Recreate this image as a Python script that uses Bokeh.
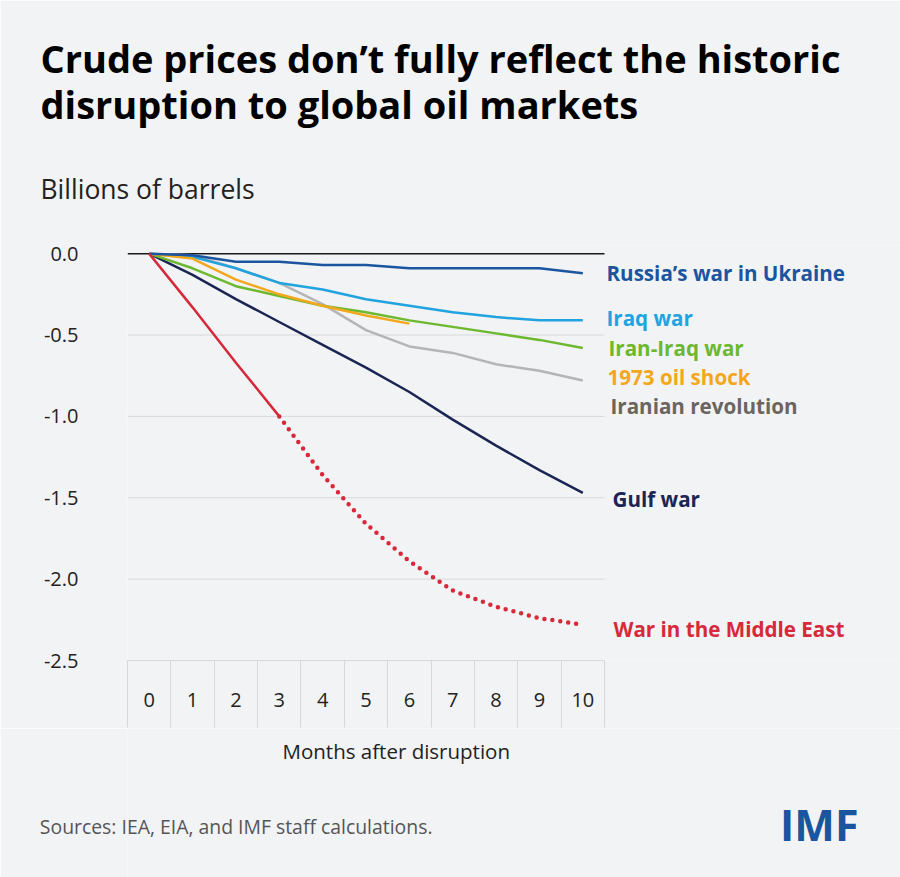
from bokeh.embed import file_html
from bokeh.layouts import column
from bokeh.models import FixedTicker, Label, NumeralTickFormatter, Range1d, Title
from bokeh.plotting import figure
from bokeh.resources import INLINE

# Months after disruption
MONTHS = list(range(11))
MONTHS_1973 = list(range(7))
MONTHS_ME_ACTUAL = [0, 1, 2, 3]
MONTHS_ME_PROJ = [3, 4, 5, 6, 7, 8, 9, 10]

# Billions of barrels
RUSSIA = [0, -0.01, -0.05, -0.05, -0.07, -0.07, -0.09, -0.09, -0.09, -0.09, -0.12]
IRAQ = [0, -0.02, -0.09, -0.18, -0.22, -0.28, -0.32, -0.36, -0.39, -0.41, -0.41]
IRAN_IRAQ = [0, -0.09, -0.20, -0.26, -0.32, -0.36, -0.41, -0.45, -0.49, -0.53, -0.58]
OIL_1973 = [0, -0.03, -0.16, -0.25, -0.32, -0.38, -0.43]
IRAN_REV = [0, -0.01, -0.09, -0.18, -0.31, -0.47, -0.57, -0.61, -0.68, -0.72, -0.78]
GULF = [0, -0.13, -0.28, -0.42, -0.56, -0.70, -0.85, -1.02, -1.18, -1.33, -1.47]
ME_ACTUAL = [0, -0.33, -0.67, -1.0]
ME_PROJ = [-1.0, -1.36, -1.66, -1.89, -2.07, -2.17, -2.24, -2.28]

Y_TICKS = [0, -0.5, -1.0, -1.5, -2.0, -2.5]

SOURCE = "Sources: IEA, EIA, and IMF staff calculations."

BG = "#f2f3f5"
GRID = "#d6d8db"
FONT = "Open Sans"
W, H = 900, 877
CHART_H = 728  # chart figure ends at the bottom of the month boxes

# chart frame in page pixels; it runs on to the right edge to hold the labels
FX0, FY0, FY1 = 127, 245, 660
X0, XB, Y0, Y1 = -0.5, 10.5, -2.5, 0.05
PX_PER_MONTH = 477 / (XB - X0)
X1 = X0 + (W - FX0) / PX_PER_MONTH


def mx(px):
    return X0 + (px - FX0) / PX_PER_MONTH


def vy(py):
    return Y0 + (FY1 - py) * (Y1 - Y0) / (FY1 - FY0)


p = figure(width=W, height=CHART_H, output_backend="svg", toolbar_location=None,
           tools="", x_range=Range1d(X0, X1), y_range=Range1d(Y0, Y1),
           min_border_left=FX0, min_border_right=0,
           min_border_top=FY0, min_border_bottom=CHART_H - FY1)
p.background_fill_color = BG
p.border_fill_color = BG
p.outline_line_color = None

# header, stacked upwards from the frame
p.add_layout(Title(text="Billions of barrels", align="left", offset=40 - FX0,
                   standoff=78, text_font=FONT, text_font_style="normal",
                   text_font_size="26.5px", text_color="#222222"), "above")
p.add_layout(Title(text="disruption to global oil markets", align="left",
                   offset=40 - FX0, standoff=0, text_font=FONT,
                   text_font_style="bold", text_font_size="38px",
                   text_color="#000000"), "above")
p.add_layout(Title(text="Crude prices don\u2019t fully reflect the historic",
                   align="left", offset=40 - FX0, standoff=-16, text_font=FONT,
                   text_font_style="bold", text_font_size="38px",
                   text_color="#000000"), "above")

# x axis drawn as a row of boxes
p.xaxis.bounds = (X0, XB)
p.xaxis.ticker = FixedTicker(ticks=MONTHS,
                             minor_ticks=[m - 0.5 for m in MONTHS] + [MONTHS[-1] + 0.5])
p.xaxis.major_tick_out = 0
p.xaxis.major_tick_in = 0
p.xaxis.minor_tick_in = 0
p.xaxis.minor_tick_out = 67
p.xaxis.minor_tick_line_color = GRID
p.xaxis.axis_line_color = GRID
p.xaxis.major_label_standoff = -35
p.xaxis.major_label_text_font = FONT
p.xaxis.major_label_text_font_size = "20px"
p.xaxis.major_label_text_color = "#222222"
p.xgrid.grid_line_color = None

p.yaxis.ticker = FixedTicker(ticks=Y_TICKS, minor_ticks=[])
p.yaxis.formatter = NumeralTickFormatter(format="0.0")
p.yaxis.axis_line_color = None
p.yaxis.major_tick_line_color = None
p.yaxis.major_label_standoff = 43
p.yaxis.major_label_text_font = FONT
p.yaxis.major_label_text_font_size = "20px"
p.yaxis.major_label_text_color = "#222222"
p.ygrid.grid_line_color = None

# grid lines only across the month boxes
grid_y = Y_TICKS[1:-1]
p.segment(x0=[X0] * len(grid_y), x1=[XB] * len(grid_y), y0=grid_y, y1=grid_y,
          line_color=GRID, line_width=1)
p.segment(x0=[X0], x1=[XB], y0=[0], y1=[0], line_color="#1a1a1a", line_width=1.5)

# series
p.line(MONTHS, GULF, line_color="#1b2553", line_width=2.5)
p.line(MONTHS, IRAN_REV, line_color="#b5b5b5", line_width=2.5)
p.line(MONTHS, IRAN_IRAQ, line_color="#6cb82e", line_width=2.5)
p.line(MONTHS, IRAQ, line_color="#21a3df", line_width=2.5)
p.line(MONTHS_1973, OIL_1973, line_color="#f2a71d", line_width=2.5)
p.line(MONTHS, RUSSIA, line_color="#1b55a0", line_width=2.5)
p.line(MONTHS_ME_ACTUAL, ME_ACTUAL, line_color="#d6293a", line_width=2.5)
p.line(MONTHS_ME_PROJ, ME_PROJ, line_color="#d6293a", line_width=4.5,
       line_dash="0 8", line_cap="round")

# end-of-line labels: (text, colour, page x, page y)
end_labels = [
    ("Russia\u2019s war in Ukraine", "#1b55a0", 606, 272),
    ("Iraq war", "#21a3df", 606, 317),
    ("Iran-Iraq war", "#6cb82e", 608, 347),
    ("1973 oil shock", "#f2a71d", 607, 376),
    ("Iranian revolution", "#6b645f", 610, 405),
    ("Gulf war", "#1b2553", 612, 498),
    ("War in the Middle East", "#d6293a", 613, 628),
]
for text, color, px, py in end_labels:
    p.add_layout(Label(x=mx(px), y=vy(py), text=text, text_color=color,
                       text_font=FONT, text_font_style="bold",
                       text_font_size="20.6px", text_baseline="middle"))

# footer: axis title, source and logo, in page pixels
foot = figure(width=W, height=H - CHART_H, output_backend="svg",
              toolbar_location=None, tools="", x_range=Range1d(FX0, W),
              y_range=Range1d(H, CHART_H), min_border_left=FX0,
              min_border_right=0, min_border_top=0, min_border_bottom=0)
foot.background_fill_color = BG
foot.border_fill_color = BG
foot.outline_line_color = None
foot.grid.grid_line_color = None
foot.xaxis.visible = False
# the source line sits on the footer's y axis, reaching back over the frame
foot.yaxis.ticker = FixedTicker(ticks=[826], minor_ticks=[])
foot.yaxis.major_label_overrides = {826: SOURCE}
foot.yaxis.axis_line_color = None
foot.yaxis.major_tick_line_color = None
foot.yaxis.major_label_standoff = -311
foot.yaxis.major_label_text_font = FONT
foot.yaxis.major_label_text_font_size = "19.4px"
foot.yaxis.major_label_text_color = "#555555"

foot.add_layout(Label(x=282, y=750, text="Months after disruption",
                      text_color="#222222", text_font=FONT,
                      text_font_size="20.5px", text_baseline="middle"))
foot.add_layout(Label(x=858, y=824, text="IMF", text_color="#1b55a0",
                      text_font=FONT, text_font_style="bold", text_font_size="43px",
                      text_align="right", text_baseline="middle"))

page = column(p, foot, spacing=0)
open("out.html", "w").write(file_html(page, INLINE))
